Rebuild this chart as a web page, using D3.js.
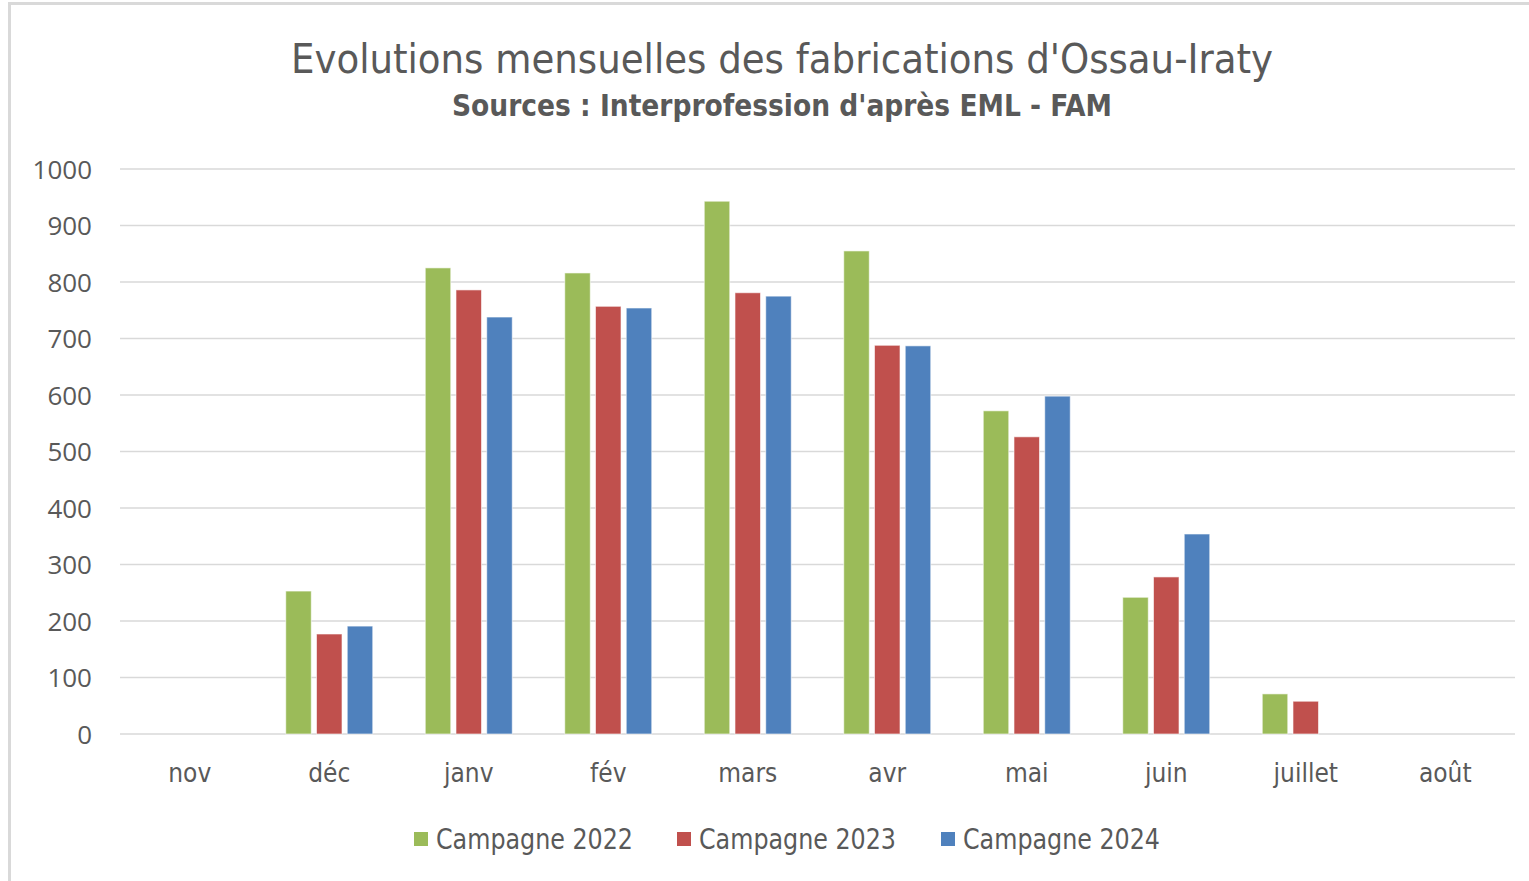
<!DOCTYPE html>
<html>
<head>
<meta charset="utf-8">
<script src="https://cdn.jsdelivr.net/npm/d3@7"></script>
<style>
  html, body { margin: 0; padding: 0; background: #fff; }
  svg { display: block; }
</style>
</head>
<body>
<svg id="chart" width="1529" height="881"></svg>
<script>
// ——— Data ———
const months = ['nov', 'déc', 'janv', 'fév', 'mars', 'avr', 'mai', 'juin', 'juillet', 'août'];
const campagne2022 = [null, 253, 825, 816, 943, 855, 572, 242, 71, null];
const campagne2023 = [null, 177, 786, 757, 781, 688, 526, 278, 58, null];
const campagne2024 = [null, 191, 738, 754, 775, 687, 598, 354, null, null];
const seriesNames = ['Campagne 2022', 'Campagne 2023', 'Campagne 2024'];
const yTicks = [0, 100, 200, 300, 400, 500, 600, 700, 800, 900, 1000];

const colors = ['#9BBB59', '#C0504D', '#4F81BD'];
const series = [campagne2022, campagne2023, campagne2024];
const textColor = '#595959';
const narrow = "'Liberation Sans Narrow', 'DejaVu Sans Condensed', 'Open Sans', sans-serif";
const numFont = "'Open Sans', 'Noto Sans', sans-serif";

const svg = d3.select('#chart');

// ——— Frame ———
svg.append('path')
    .attr('d', 'M9.5,881 V3.5 H1529')
    .attr('fill', 'none')
    .attr('stroke', '#d9d9d9')
    .attr('stroke-width', 3);

// ——— Titles ———
svg.append('text')
    .attr('x', 782).attr('y', 73)
    .attr('text-anchor', 'middle')
    .attr('font-family', narrow)
    .attr('font-size', 40)
    .attr('fill', textColor)
    .attr('textLength', 982)
    .attr('lengthAdjust', 'spacingAndGlyphs')
    .text("Evolutions mensuelles des fabrications d'Ossau-Iraty");

svg.append('text')
    .attr('x', 782).attr('y', 116)
    .attr('text-anchor', 'middle')
    .attr('font-family', narrow)
    .attr('font-weight', 'bold')
    .attr('font-size', 30)
    .attr('fill', textColor)
    .attr('textLength', 660)
    .attr('lengthAdjust', 'spacingAndGlyphs')
    .text("Sources : Interprofession d'après EML - FAM");

// ——— Scales ———
const plot = { left: 120, right: 1515, top: 169, bottom: 734 };

const x = d3.scaleBand()
    .domain(months)
    .range([plot.left, plot.right])
    .paddingInner(0).paddingOuter(0);

const groupW = 87;
const xs = d3.scaleBand()
    .domain(d3.range(series.length))
    .range([0, groupW])
    .paddingInner(0.17);

const y = d3.scaleLinear()
    .domain([0, 1000])
    .range([plot.bottom, plot.top]);

// ——— Gridlines ———
svg.append('g')
    .selectAll('line')
    .data(yTicks)
    .join('line')
    .attr('x1', plot.left).attr('x2', plot.right)
    .attr('y1', d => y(d)).attr('y2', d => y(d))
    .attr('stroke', '#d9d9d9')
    .attr('stroke-width', 1.5);

// ——— Y axis labels ———
const yAxis = svg.append('g')
    .attr('transform', `translate(${plot.left - 28},0)`)
    .call(d3.axisLeft(y).tickValues(yTicks).tickFormat(d3.format('d')).tickSize(0).tickPadding(0));
yAxis.select('.domain').remove();
yAxis.selectAll('text')
    .attr('font-family', numFont)
    .attr('font-size', 26)
    .attr('fill', textColor)
    .attr('dy', '0.35em');

// ——— X axis labels ———
const xAxis = svg.append('g')
    .attr('transform', `translate(0,${plot.bottom + 30})`)
    .call(d3.axisBottom(x).tickSize(0).tickPadding(0));
xAxis.select('.domain').remove();
xAxis.selectAll('text')
    .attr('font-family', narrow)
    .attr('font-size', 26)
    .attr('fill', textColor)
    .attr('dy', '0.71em');

// ——— Bars ———
series.forEach((vals, si) => {
    svg.append('g')
        .selectAll('rect')
        .data(months.map((m, i) => ({ m, v: vals[i] })).filter(d => d.v != null))
        .join('rect')
        .attr('x', d => x(d.m) + (x.bandwidth() - groupW) / 2 + xs(si))
        .attr('y', d => y(d.v))
        .attr('width', xs.bandwidth())
        .attr('height', d => y(0) - y(d.v))
        .attr('fill', colors[si])
        .attr('stroke', '#ffffff')
        .attr('stroke-opacity', 0.6)
        .attr('stroke-width', 1);
});

// ——— Legend ———
const legendX = [414, 677, 941];
const legend = svg.append('g');
seriesNames.forEach((name, i) => {
    legend.append('rect')
        .attr('x', legendX[i]).attr('y', 832)
        .attr('width', 14).attr('height', 14)
        .attr('fill', colors[i]);
    legend.append('text')
        .attr('x', legendX[i] + 22).attr('y', 849)
        .attr('font-family', narrow)
        .attr('font-size', 28)
        .attr('fill', textColor)
        .attr('textLength', 197)
        .attr('lengthAdjust', 'spacingAndGlyphs')
        .text(name);
});
</script>
</body>
</html>
